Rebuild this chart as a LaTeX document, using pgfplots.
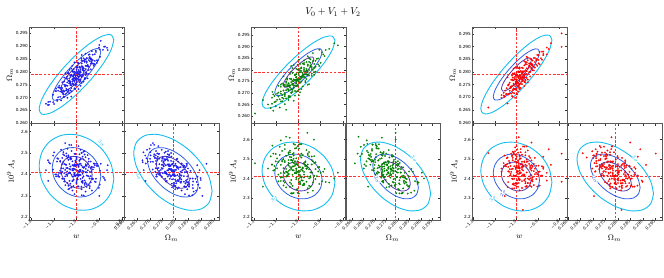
\documentclass[border=0pt]{standalone}
\usepackage{fontspec}
\setmainfont{DejaVu Sans}
\usepackage{pgfplots}
\usepackage{pgfplotstable}
\pgfplotsset{compat=1.18}

\definecolor{cthree}{RGB}{20,190,240}
\definecolor{ctwo}{RGB}{45,95,230}
\definecolor{cone}{RGB}{85,55,170}
\definecolor{cfid}{RGB}{255,50,50}
\definecolor{pblue}{RGB}{30,30,240}
\definecolor{pgreen}{RGB}{0,128,0}
\definecolor{pred}{RGB}{255,0,0}

% ---------- Fisher contours (3, 2, 1 sigma) ----------
\pgfplotstableread{
x y
-0.835 0.2925
-0.8476 0.29446
-0.8833 0.29407
-0.9369 0.29138
-1.0 0.2868
-1.0631 0.28104
-1.1167 0.27497
-1.1524 0.26952
-1.165 0.2655
-1.1524 0.26354
-1.1167 0.26393
-1.0631 0.26662
-1.0 0.2712
-0.9369 0.27696
-0.8833 0.28303
-0.8476 0.28848
-0.835 0.2925
}\ETLc
\pgfplotstableread{
x y
-0.8927 0.28778
-0.9009 0.28905
-0.9241 0.2888
-0.9590 0.28705
-1.0 0.28407
-1.0410 0.28033
-1.0759 0.27638
-1.0991 0.27284
-1.1073 0.27022
-1.0991 0.26895
-1.0759 0.2692
-1.0410 0.27095
-1.0 0.27393
-0.9590 0.27767
-0.9241 0.28162
-0.9009 0.28516
-0.8927 0.28778
}\ETLb
\pgfplotstableread{
x y
-0.9307 0.28467
-0.9360 0.28549
-0.9510 0.28533
-0.9735 0.2842
-1.0 0.28228
-1.0265 0.27986
-1.0490 0.27731
-1.0640 0.27502
-1.0693 0.27333
-1.0640 0.27251
-1.0490 0.27267
-1.0265 0.2738
-1.0 0.27572
-0.9735 0.27814
-0.9510 0.28069
-0.9360 0.28298
-0.9307 0.28467
}\ETLa
\pgfplotstableread{
x y
-0.835 2.380
-0.8476 2.4493
-0.8833 2.5125
-0.9369 2.5602
-1.0 2.585
-1.0631 2.5832
-1.1167 2.555
-1.1524 2.5047
-1.165 2.440
-1.1524 2.3708
-1.1167 2.3075
-1.0631 2.2598
-1.0 2.235
-0.9369 2.2368
-0.8833 2.265
-0.8476 2.3153
-0.835 2.380
}\EBLc
\pgfplotstableread{
x y
-0.8927 2.3905
-0.9009 2.4355
-0.9241 2.4766
-0.9590 2.5076
-1.0 2.5238
-1.0410 2.5226
-1.0759 2.5042
-1.0991 2.4716
-1.1073 2.4295
-1.0991 2.3845
-1.0759 2.3434
-1.0410 2.3124
-1.0 2.2963
-0.9590 2.2975
-0.9241 2.3158
-0.9009 2.3485
-0.8927 2.3905
}\EBLb
\pgfplotstableread{
x y
-0.9307 2.3974
-0.9360 2.4265
-0.9510 2.4531
-0.9735 2.4731
-1.0 2.4835
-1.0265 2.4827
-1.0490 2.4709
-1.0640 2.4498
-1.0693 2.4226
-1.0640 2.3935
-1.0490 2.3669
-1.0265 2.3469
-1.0 2.3365
-0.9735 2.3373
-0.9510 2.3491
-0.9360 2.3702
-0.9307 2.3974
}\EBLa
\pgfplotstableread{
x y
0.2943 2.321
0.29314 2.3867
0.28982 2.456
0.28486 2.5182
0.279 2.564
0.27314 2.5863
0.26818 2.5818
0.26486 2.5512
0.2637 2.499
0.26486 2.4333
0.26818 2.364
0.27314 2.3018
0.279 2.256
0.28486 2.2337
0.28982 2.2382
0.29314 2.2688
0.2943 2.321
}\EBRc
\pgfplotstableread{
x y
0.28895 2.3522
0.28819 2.3949
0.28603 2.4399
0.28281 2.4803
0.279 2.5101
0.27519 2.5246
0.27197 2.5217
0.26981 2.5018
0.26905 2.4679
0.26981 2.4251
0.27197 2.3801
0.27519 2.3397
0.279 2.3099
0.28281 2.2954
0.28603 2.2983
0.28819 2.3182
0.28895 2.3522
}\EBRb
\pgfplotstableread{
x y
0.28543 2.3726
0.28494 2.4002
0.28354 2.4293
0.28146 2.4555
0.279 2.4747
0.27654 2.4841
0.27446 2.4822
0.27306 2.4693
0.27257 2.4474
0.27306 2.4198
0.27446 2.3907
0.27654 2.3645
0.279 2.3453
0.28146 2.3359
0.28354 2.3378
0.28494 2.3507
0.28543 2.3726
}\EBRa

% ---------- samples: w, Omega_m, 10^9 A_s ----------
\pgfplotstableread{
w Om As
-0.987 0.2783 2.463
-1.054 0.2750 2.406
-0.964 0.2841 2.372
-1.005 0.2747 2.463
-0.933 0.2847 2.411
-1.027 0.2757 2.470
-1.000 0.2803 2.359
-0.906 0.2844 2.440
-1.081 0.2701 2.473
-0.978 0.2846 2.331
-1.018 0.2772 2.419
-0.955 0.2794 2.440
-1.041 0.2782 2.393
-0.991 0.2793 2.414
-1.104 0.2711 2.423
-0.969 0.2804 2.470
-1.014 0.2750 2.427
-0.946 0.2846 2.391
-1.068 0.2689 2.515
-0.996 0.2797 2.395
-0.960 0.2871 2.320
-1.032 0.2756 2.407
-0.919 0.2843 2.450
-1.009 0.2801 2.394
-0.982 0.2746 2.515
-1.050 0.2743 2.421
-0.973 0.2821 2.361
-1.023 0.2748 2.473
-0.942 0.2868 2.336
-1.063 0.2737 2.448
-1.000 0.2775 2.444
-0.883 0.2886 2.389
-1.036 0.2799 2.331
-0.987 0.2770 2.494
-1.005 0.2797 2.394
-0.951 0.2822 2.394
-1.086 0.2692 2.460
-0.973 0.2808 2.434
-1.018 0.2806 2.369
-0.991 0.2777 2.399
-0.928 0.2867 2.381
-1.045 0.2716 2.485
-0.982 0.2808 2.397
-1.009 0.2775 2.447
-0.960 0.2775 2.480
-1.027 0.2786 2.357
-0.937 0.2849 2.428
-1.059 0.2728 2.428
-0.996 0.2817 2.384
-1.023 0.2704 2.537
-0.969 0.2814 2.391
-1.090 0.2735 2.400
-0.991 0.2780 2.439
-0.946 0.2807 2.473
-1.041 0.2759 2.414
-0.978 0.2853 2.343
-1.014 0.2768 2.419
-0.897 0.2888 2.352
-1.072 0.2724 2.463
-1.000 0.2811 2.369
-0.964 0.2805 2.435
-1.032 0.2717 2.538
-0.955 0.2841 2.342
-1.005 0.2786 2.422
-0.987 0.2760 2.466
-1.054 0.2778 2.380
-0.924 0.2824 2.451
-1.018 0.2783 2.426
-0.973 0.2790 2.417
-1.122 0.2672 2.457
-0.960 0.2824 2.410
-1.009 0.2837 2.308
-0.982 0.2800 2.450
-1.045 0.2734 2.430
-0.942 0.2858 2.381
-1.023 0.2737 2.474
-0.996 0.2799 2.376
-0.910 0.2845 2.449
-1.063 0.2760 2.380
-0.969 0.2806 2.431
-1.036 0.2731 2.482
-1.000 0.2819 2.364
-0.951 0.2775 2.490
-1.014 0.2781 2.390
-0.978 0.2783 2.500
-1.077 0.2739 2.407
-0.964 0.2847 2.351
-1.027 0.2754 2.437
-0.933 0.2839 2.433
-1.005 0.2734 2.496
-0.987 0.2817 2.398
-1.050 0.2746 2.391
-0.915 0.2883 2.365
-1.018 0.2754 2.461
-0.973 0.2818 2.384
-1.099 0.2675 2.503
-0.991 0.2834 2.344
-0.955 0.2823 2.395
-1.032 0.2774 2.426
-0.982 0.2769 2.471
-1.068 0.2738 2.404
-0.946 0.2867 2.351
-1.009 0.2767 2.400
-0.964 0.2776 2.493
-1.041 0.2772 2.398
-0.996 0.2786 2.447
-0.874 0.2899 2.374
-1.023 0.2813 2.339
-0.978 0.2781 2.442
-1.059 0.2717 2.494
-0.937 0.2851 2.363
-1.005 0.2776 2.438
-0.960 0.2848 2.363
-1.027 0.2728 2.475
-0.991 0.2808 2.435
-1.081 0.2740 2.397
-0.928 0.2833 2.423
-1.014 0.2774 2.441
-0.969 0.2762 2.506
-1.135 0.2676 2.420
-0.893 0.2921 2.450
-0.862 0.2885 2.443
-1.125 0.2683 2.370
-0.899 0.2905 2.300
-1.050 0.2712 2.546
-1.013 0.2787 2.377
-0.946 0.2820 2.434
-1.036 0.2729 2.468
-0.995 0.2823 2.377
-1.067 0.2723 2.429
-0.973 0.2813 2.370
-1.000 0.2767 2.481
-1.094 0.2726 2.400
-0.919 0.2869 2.367
-1.022 0.2724 2.509
-0.982 0.2798 2.421
-1.045 0.2776 2.400
-0.959 0.2788 2.447
-1.009 0.2777 2.426
-0.896 0.2859 2.417
-1.031 0.2766 2.370
-0.986 0.2820 2.413
-1.054 0.2724 2.449
-0.932 0.2881 2.325
-1.004 0.2773 2.445
-1.040 0.2699 2.520
-0.968 0.2814 2.433
-1.081 0.2727 2.390
-0.991 0.2769 2.446
-1.018 0.2824 2.325
-0.950 0.2827 2.419
-1.027 0.2749 2.479
-0.977 0.2822 2.367
-1.058 0.2702 2.504
-0.937 0.2833 2.392
-1.000 0.2795 2.396
-1.117 0.2684 2.451
-0.964 0.2771 2.509
-1.013 0.2800 2.346
-0.995 0.2773 2.446
-1.049 0.2748 2.446
-0.914 0.2878 2.380
-1.027 0.2762 2.406
-0.982 0.2764 2.471
-1.009 0.2793 2.441
-1.072 0.2703 2.459
-0.955 0.2854 2.355
-1.018 0.2762 2.443
-0.991 0.2795 2.393
-1.040 0.2795 2.360
-0.973 0.2784 2.483
-1.063 0.2721 2.412
-0.941 0.2842 2.412
-1.004 0.2753 2.456
-0.977 0.2866 2.303
-1.031 0.2756 2.449
-0.910 0.2835 2.440
-1.009 0.2790 2.401
-1.054 0.2763 2.367
-0.959 0.2811 2.426
-0.986 0.2802 2.421
-1.103 0.2682 2.488
-0.928 0.2846 2.377
-1.000 0.2759 2.471
-1.036 0.2765 2.405
-0.968 0.2853 2.302
-1.045 0.2729 2.498
-0.995 0.2784 2.418
-1.013 0.2810 2.374
-0.946 0.2792 2.460
-1.076 0.2746 2.389
-0.982 0.2787 2.414
-1.027 0.2780 2.423
-0.878 0.2898 2.383
-1.040 0.2746 2.430
-0.991 0.2733 2.532
-1.018 0.2770 2.390
-0.955 0.2836 2.410
-1.058 0.2712 2.459
-0.977 0.2833 2.366
-1.004 0.2771 2.464
-1.090 0.2725 2.391
-0.937 0.2810 2.460
-1.031 0.2764 2.409
-0.964 0.2839 2.358
-1.000 0.2751 2.476
-1.049 0.2795 2.350
-0.986 0.2789 2.450
-1.022 0.2787 2.340
-0.923 0.2831 2.433
-1.036 0.2723 2.489
-0.973 0.2816 2.403
-1.067 0.2731 2.407
-0.995 0.2836 2.344
-1.013 0.2753 2.442
-0.950 0.2824 2.449
-1.085 0.2687 2.475
-0.982 0.2816 2.379
-0.901 0.2895 2.337
-1.009 0.2736 2.496
-1.045 0.2747 2.445
-0.968 0.2796 2.414
-1.018 0.2801 2.369
-0.932 0.2832 2.436
-1.054 0.2703 2.489
-0.991 0.2803 2.440
-1.036 0.2794 2.347
-0.959 0.2798 2.442
-1.004 0.2784 2.393
-1.126 0.2671 2.466
-0.977 0.2757 2.501
-1.022 0.2789 2.398
-0.941 0.2853 2.346
-1.063 0.2719 2.477
-0.995 0.2794 2.402
-1.040 0.2722 2.477
-0.973 0.2842 2.365
-1.009 0.2762 2.405
-0.919 0.2830 2.443
-1.072 0.2737 2.417
-0.986 0.2796 2.399
-1.031 0.2808 2.334
-0.865 0.2894 2.420
}\GA

\pgfplotstableread{
w Om As
-0.946 0.2819 2.412
-1.027 0.2705 2.525
-0.998 0.2788 2.438
-1.056 0.2712 2.435
-0.975 0.2829 2.374
-0.911 0.2823 2.457
-1.091 0.2685 2.486
-1.004 0.2821 2.326
-0.981 0.2728 2.521
-1.045 0.2740 2.480
-1.010 0.2743 2.473
-1.068 0.2734 2.387
-0.958 0.2774 2.521
-1.022 0.2751 2.442
-0.993 0.2703 2.577
-0.894 0.2875 2.386
-1.109 0.2661 2.464
-0.987 0.2810 2.404
-0.969 0.2747 2.484
-1.039 0.2733 2.460
-1.016 0.2776 2.466
-1.074 0.2680 2.495
-0.935 0.2872 2.337
-0.975 0.2779 2.480
-0.998 0.2777 2.382
-1.033 0.2703 2.509
-1.097 0.2697 2.452
-0.964 0.2781 2.451
-1.051 0.2758 2.432
-0.940 0.2774 2.513
-0.993 0.2770 2.438
-1.022 0.2820 2.325
-1.062 0.2687 2.551
-0.923 0.2839 2.397
-1.010 0.2752 2.473
-1.080 0.2727 2.404
-1.045 0.2670 2.534
-0.958 0.2817 2.410
-0.987 0.2763 2.508
-1.138 0.2651 2.451
-0.981 0.2827 2.389
-1.004 0.2731 2.473
-1.027 0.2752 2.442
-0.952 0.2799 2.447
-1.033 0.2761 2.372
-1.085 0.2673 2.521
-0.906 0.2886 2.372
-1.056 0.2677 2.517
-0.969 0.2793 2.470
-0.998 0.2751 2.420
-1.062 0.2730 2.428
-0.987 0.2717 2.576
-1.016 0.2756 2.430
-0.946 0.2845 2.358
-1.010 0.2729 2.504
-0.975 0.2800 2.475
-1.045 0.2716 2.467
-1.068 0.2772 2.364
-0.929 0.2779 2.515
-1.027 0.2740 2.483
-0.998 0.2788 2.399
-0.900 0.2830 2.429
-1.114 0.2694 2.441
-0.981 0.2777 2.456
-1.051 0.2729 2.412
-0.964 0.2760 2.546
-1.010 0.2804 2.343
-0.940 0.2803 2.472
-1.091 0.2702 2.420
-1.022 0.2667 2.578
-0.993 0.2796 2.408
-1.039 0.2724 2.535
-0.917 0.2847 2.412
-1.068 0.2676 2.500
-0.975 0.2823 2.405
-1.010 0.2741 2.451
-1.080 0.2698 2.470
-0.958 0.2858 2.327
-1.016 0.2709 2.554
-0.987 0.2795 2.406
-0.969 0.2767 2.463
-1.004 0.2760 2.488
-1.039 0.2762 2.357
-1.062 0.2701 2.484
-0.877 0.2885 2.382
-0.998 0.2716 2.554
-1.033 0.2758 2.450
-1.016 0.2733 2.475
-0.952 0.2849 2.362
-1.027 0.2737 2.419
-0.964 0.2804 2.450
-1.103 0.2643 2.526
-0.993 0.2825 2.382
-0.981 0.2768 2.451
-1.045 0.2742 2.439
-0.958 0.2736 2.528
-1.016 0.2756 2.489
-1.056 0.2744 2.409
-0.935 0.2800 2.489
-1.010 0.2767 2.404
-1.039 0.2687 2.543
-0.998 0.2800 2.430
-1.120 0.2654 2.472
-0.975 0.2808 2.370
-0.993 0.2744 2.516
-0.946 0.2813 2.431
-1.033 0.2816 2.323
-1.022 0.2731 2.531
-1.051 0.2735 2.413
-0.923 0.2792 2.483
-1.074 0.2741 2.407
-0.987 0.2772 2.446
-1.010 0.2781 2.438
-1.033 0.2718 2.456
-0.888 0.2866 2.435
-1.004 0.2708 2.566
-1.027 0.2786 2.362
-0.958 0.2791 2.455
-0.993 0.2790 2.370
-1.056 0.2628 2.615
-1.197 0.2612 2.478
-0.838 0.2914 2.400
-0.822 0.2905 2.430
-0.960 0.2790 2.635
-0.861 0.2890 2.379
-1.080 0.2664 2.596
-1.161 0.2670 2.358
-1.118 0.2705 2.569
-0.930 0.2790 2.600
-1.040 0.2730 2.610
-1.074 0.2691 2.488
-0.993 0.2805 2.375
-1.022 0.2722 2.462
-0.964 0.2798 2.465
-1.045 0.2681 2.526
-1.109 0.2687 2.443
-0.929 0.2825 2.414
-1.016 0.2689 2.574
-1.039 0.2782 2.379
-0.975 0.2770 2.420
-1.010 0.2767 2.427
-0.952 0.2776 2.513
-1.062 0.2736 2.379
-0.998 0.2759 2.458
-1.027 0.2807 2.323
-1.126 0.2635 2.514
-0.911 0.2849 2.436
-1.033 0.2700 2.496
-1.051 0.2763 2.416
-0.981 0.2777 2.440
-1.004 0.2734 2.434
-0.946 0.2830 2.405
-1.085 0.2638 2.563
-1.045 0.2731 2.420
-1.022 0.2733 2.518
-0.987 0.2807 2.391
-0.923 0.2813 2.448
-1.056 0.2729 2.449
-0.969 0.2752 2.468
-1.080 0.2736 2.387
-1.027 0.2740 2.462
-0.998 0.2690 2.575
-0.958 0.2823 2.349
-1.097 0.2671 2.503
-1.010 0.2758 2.427
-0.940 0.2783 2.496
-0.975 0.2840 2.366
-1.062 0.2693 2.490
-1.033 0.2747 2.392
-0.882 0.2859 2.449
-1.039 0.2683 2.511
-1.016 0.2779 2.427
-0.993 0.2758 2.458
-1.068 0.2711 2.453
-0.987 0.2749 2.528
-0.935 0.2837 2.379
-1.114 0.2624 2.528
-0.964 0.2833 2.383
-1.051 0.2717 2.430
-1.022 0.2759 2.480
-0.958 0.2780 2.472
-1.033 0.2793 2.324
-1.004 0.2754 2.470
-1.074 0.2665 2.542
-1.010 0.2781 2.396
-1.045 0.2710 2.425
-0.975 0.2794 2.433
-0.952 0.2738 2.536
-1.091 0.2731 2.385
-0.993 0.2770 2.417
-1.022 0.2722 2.501
-1.120 0.2680 2.471
-0.906 0.2816 2.459
-1.039 0.2733 2.444
-0.969 0.2781 2.488
-1.056 0.2750 2.354
-1.010 0.2706 2.557
-1.080 0.2707 2.428
-0.929 0.2808 2.480
-0.998 0.2843 2.322
-1.027 0.2714 2.492
-0.981 0.2786 2.365
-1.103 0.2663 2.488
-0.952 0.2834 2.400
-1.045 0.2687 2.495
-1.010 0.2769 2.449
-0.940 0.2812 2.430
-1.062 0.2652 2.573
-1.004 0.2801 2.346
-1.033 0.2715 2.494
}\GB

\pgfplotstableread{
w Om As
-1.003 0.2790 2.412
-0.963 0.2786 2.414
-0.930 0.2827 2.453
-1.031 0.2715 2.478
-0.974 0.2801 2.474
-0.992 0.2815 2.357
-0.947 0.2770 2.488
-1.013 0.2754 2.526
-1.006 0.2771 2.374
-0.897 0.2834 2.466
-0.980 0.2780 2.428
-1.024 0.2715 2.528
-0.919 0.2855 2.366
-0.985 0.2770 2.456
-0.958 0.2807 2.358
-0.996 0.2820 2.390
-1.017 0.2702 2.506
-0.952 0.2814 2.465
-1.038 0.2749 2.381
-0.969 0.2776 2.461
-0.875 0.2866 2.458
-0.989 0.2742 2.465
-0.999 0.2798 2.463
-0.936 0.2833 2.401
-1.059 0.2718 2.463
-0.985 0.2764 2.425
-0.958 0.2758 2.519
-1.010 0.2776 2.399
-0.914 0.2817 2.506
-0.974 0.2817 2.351
-0.999 0.2771 2.431
-0.980 0.2774 2.551
-0.892 0.2830 2.435
-1.020 0.2786 2.399
-0.952 0.2803 2.431
-0.992 0.2737 2.533
-1.013 0.2735 2.416
-0.985 0.2799 2.428
-0.908 0.2851 2.397
-1.006 0.2698 2.540
-0.941 0.2826 2.475
-1.027 0.2742 2.416
-0.969 0.2781 2.465
-0.989 0.2799 2.395
-1.045 0.2714 2.504
-0.936 0.2782 2.465
-0.963 0.2842 2.420
-0.996 0.2745 2.438
-0.925 0.2845 2.404
-1.069 0.2709 2.435
-0.980 0.2755 2.503
-0.930 0.2833 2.357
-1.003 0.2757 2.456
-1.017 0.2778 2.450
-0.969 0.2789 2.412
-0.881 0.2880 2.415
-0.992 0.2753 2.457
-0.952 0.2776 2.565
-0.985 0.2813 2.339
-0.930 0.2814 2.441
-0.999 0.2769 2.467
-1.041 0.2779 2.356
-0.947 0.2759 2.544
-0.974 0.2798 2.415
-1.034 0.2714 2.490
-0.903 0.2867 2.358
-1.020 0.2745 2.515
-0.958 0.2831 2.375
-1.010 0.2716 2.525
-0.999 0.2758 2.375
-0.974 0.2793 2.462
-0.859 0.2869 2.429
-0.985 0.2818 2.392
-1.003 0.2733 2.456
-0.936 0.2833 2.458
-1.024 0.2742 2.434
-0.963 0.2761 2.488
-1.006 0.2781 2.488
-0.925 0.2824 2.393
-0.992 0.2780 2.453
-1.017 0.2767 2.396
-0.914 0.2839 2.422
-1.055 0.2702 2.518
-0.969 0.2765 2.464
-1.013 0.2813 2.374
-0.947 0.2813 2.377
-0.919 0.2820 2.475
-0.996 0.2763 2.429
-0.989 0.2799 2.461
-1.048 0.2713 2.462
-0.941 0.2834 2.411
-0.980 0.2737 2.472
-0.930 0.2830 2.493
-1.006 0.2771 2.413
-0.963 0.2778 2.484
-1.020 0.2770 2.349
-0.897 0.2847 2.434
-0.985 0.2753 2.512
-0.952 0.2838 2.362
-1.027 0.2739 2.464
-0.963 0.2780 2.414
-0.908 0.2846 2.465
-0.999 0.2712 2.513
-1.038 0.2747 2.459
-0.941 0.2821 2.394
-0.989 0.2802 2.401
-0.969 0.2778 2.565
-0.886 0.2854 2.414
-1.017 0.2729 2.494
-1.010 0.2795 2.349
-0.958 0.2769 2.535
-0.992 0.2780 2.423
-0.925 0.2826 2.464
-1.031 0.2726 2.448
-0.952 0.2860 2.357
-0.936 0.2820 2.376
-1.003 0.2752 2.520
-0.985 0.2799 2.396
-1.052 0.2727 2.469
-0.974 0.2763 2.386
-0.790 0.2952 2.528
-0.790 0.2899 2.383
-0.989 0.2775 2.612
-0.970 0.2815 2.238
-0.840 0.2913 2.470
-0.875 0.2880 2.512
-1.054 0.2705 2.309
-0.930 0.2850 2.585
-1.130 0.2660 2.530
-0.850 0.2890 2.550
-1.003 0.2731 2.500
-0.963 0.2802 2.390
-0.930 0.2816 2.469
-1.031 0.2758 2.414
-0.974 0.2769 2.522
-0.992 0.2723 2.493
-0.947 0.2846 2.376
-1.013 0.2749 2.534
-1.006 0.2744 2.414
-0.897 0.2866 2.418
-1.024 0.2769 2.448
-0.919 0.2806 2.438
-0.985 0.2781 2.440
-0.958 0.2791 2.382
-0.996 0.2712 2.550
-1.017 0.2794 2.370
-0.952 0.2792 2.497
-1.038 0.2711 2.437
-0.969 0.2803 2.421
-0.875 0.2871 2.450
-0.989 0.2801 2.377
-0.999 0.2728 2.567
-0.936 0.2801 2.449
-1.059 0.2707 2.479
-0.985 0.2786 2.393
-0.958 0.2839 2.399
-1.010 0.2733 2.463
-0.914 0.2855 2.450
-0.974 0.2752 2.447
-0.999 0.2755 2.455
-0.980 0.2785 2.535
-0.892 0.2879 2.363
-1.020 0.2705 2.519
-0.992 0.2802 2.437
-1.013 0.2767 2.368
-0.985 0.2750 2.500
-0.908 0.2829 2.429
-1.006 0.2817 2.364
-0.941 0.2799 2.515
-1.027 0.2737 2.424
-0.969 0.2797 2.441
-0.989 0.2745 2.475
-1.045 0.2736 2.472
-0.936 0.2852 2.361
-0.963 0.2745 2.564
-0.996 0.2788 2.374
-0.925 0.2807 2.460
-1.069 0.2698 2.451
-0.980 0.2804 2.431
-0.930 0.2811 2.389
-1.003 0.2762 2.448
-1.017 0.2719 2.538
-0.881 0.2848 2.463
-0.992 0.2785 2.409
-0.952 0.2830 2.485
-0.985 0.2737 2.451
-0.930 0.2830 2.417
-0.999 0.2758 2.483
-1.041 0.2676 2.508
-0.947 0.2856 2.400
-0.974 0.2771 2.455
-1.034 0.2752 2.434
-0.903 0.2824 2.422
-0.958 0.2766 2.471
-1.010 0.2792 2.413
-0.999 0.2769 2.359
-0.974 0.2777 2.486
-0.859 0.2896 2.389
-0.985 0.2732 2.520
-1.003 0.2787 2.376
-0.936 0.2801 2.506
-0.963 0.2826 2.392
-1.006 0.2732 2.560
-0.925 0.2829 2.385
-0.992 0.2758 2.485
}\GC

\newcommand{\tickfont}{\fontsize{4.2}{5}\selectfont}
\pgfplotsset{
  panel/.style={scale only axis, width=95pt, height=96.5pt, anchor=south west,
    tick align=inside, major tick length=2.2pt,
    xtick pos=both, ytick pos=both,
    axis line style={black!65, line width=0.7pt},
    tick style={black!80, line width=0.35pt},
    tick label style={font=\tickfont, inner sep=1pt},
    label style={font=\fontsize{8.5}{10}\selectfont},
    xticklabel style={rotate=45, anchor=east, inner sep=0.8pt},
  },
  wticks/.style={xtick={-1.2,-1.1,-1.0,-0.9,-0.8}, xticklabels={−1.2,−1.1,−1.0,−0.9,−0.8}},
  omxticks/.style={xtick={0.260,0.265,0.270,0.275,0.280,0.285,0.290,0.295},
    xticklabels={0.260,0.265,0.270,0.275,0.280,0.285,0.290,0.295}},
  omyticks/.style={ytick={0.260,0.265,0.270,0.275,0.280,0.285,0.290,0.295},
    yticklabels={0.260,0.265,0.270,0.275,0.280,0.285,0.290,0.295}},
  asyticks/.style={ytick={2.2,2.3,2.4,2.5,2.6}, yticklabels={2.2,2.3,2.4,2.5,2.6}},
  tl/.style={panel, wticks, xticklabels={}, omyticks, ylabel={$\Omega_m$},
    ylabel style={at={(axis description cs:-0.2,0.5)}, anchor=center}},
  bl/.style={panel, wticks, asyticks, xlabel={$w$}, ylabel={$10^9\,A_s$},
    xlabel style={at={(axis description cs:0.5,-0.17)}, anchor=center},
    ylabel style={at={(axis description cs:-0.19,0.5)}, anchor=center}},
  br/.style={panel, omxticks, asyticks, yticklabels={}, xlabel={$\Omega_m$},
    xlabel style={at={(axis description cs:0.5,-0.19)}, anchor=center}},
  pts/.style={only marks, mark=*, mark size=0.8pt, mark options={line width=0.15pt}},
  e3/.style={cthree, line width=0.9pt, smooth},
  e2/.style={ctwo, line width=0.8pt, smooth},
  e1/.style={cone, line width=0.8pt, smooth},
  fid/.style={cfid, line width=0.55pt, dash pattern=on 2.6pt off 1.6pt},
}
\newcommand{\ellTL}{%
  \addplot[e1] table {\ETLa};
  \addplot[e2] table {\ETLb};
  \addplot[e3] table {\ETLc};
  \addplot[fid] coordinates {(-1,0.2) (-1,0.35)};
  \addplot[fid] coordinates {(-2,0.279) (0,0.279)};
}
\newcommand{\ellBL}{%
  \addplot[e1] table {\EBLa};
  \addplot[e2] table {\EBLb};
  \addplot[e3] table {\EBLc};
  \addplot[fid] coordinates {(-1,2.0) (-1,3.0)};
  \addplot[fid] coordinates {(-2,2.41) (0,2.41)};
}
\newcommand{\ellBR}{%
  \addplot[e1] table {\EBRa};
  \addplot[e2] table {\EBRb};
  \addplot[e3] table {\EBRc};
  \addplot[fid] coordinates {(0.279,2.0) (0.279,3.0)};
  \addplot[fid] coordinates {(0.2,2.41) (0.4,2.41)};
}
\tikzset{clab/.style={font=\fontsize{5}{6}\selectfont, fill=white, inner sep=0.2pt}}

\begin{document}
\begin{tikzpicture}
\useasboundingbox (0,0) rectangle (664pt,277pt);
\node[font=\fontsize{10}{12}\selectfont] at (333pt,265pt) {$V_0+V_1+V_2$};

% ================= group 1 (blue) =================
\begin{axis}[tl, at={(29pt,153.5pt)}, xmin=-1.21, xmax=-0.79, ymin=0.2599, ymax=0.2975]
\addplot[pts, pblue] table[x=w, y=Om] {\GA};
\ellTL
\end{axis}
\begin{axis}[bl, at={(29pt,57pt)}, xmin=-1.21, xmax=-0.79, ymin=2.1875, ymax=2.6375]
\addplot[pts, pblue] table[x=w, y=As] {\GA};
\ellBL
\node[clab, text=cthree, rotate=-45] at (axis cs:-0.890,2.545) {$3\sigma$};
\end{axis}
\begin{axis}[br, at={(124pt,57pt)}, xmin=0.2599, xmax=0.2970, ymin=2.1875, ymax=2.6375]
\addplot[pts, pblue] table[x=Om, y=As] {\GA};
\ellBR
\node[clab, text=cthree, rotate=-70] at (axis cs:0.2655,2.390) {$3\sigma$};
\end{axis}

% ================= group 2 (green) =================
\begin{axis}[tl, at={(251pt,153.5pt)}, xmin=-1.215, xmax=-0.785, ymin=0.2569, ymax=0.2984]
\addplot[pts, pgreen] table[x=w, y=Om] {\GB};
\ellTL
\end{axis}
\begin{axis}[bl, at={(251pt,57pt)}, xmin=-1.215, xmax=-0.785, ymin=2.186, ymax=2.683]
\addplot[pts, pgreen] table[x=w, y=As] {\GB};
\ellBL
\node[clab, text=cthree, rotate=45] at (axis cs:-1.110,2.296) {$3\sigma$};
\end{axis}
\begin{axis}[br, at={(345pt,57pt)}, xmin=0.2569, xmax=0.2984, ymin=2.186, ymax=2.683]
\addplot[pts, pgreen] table[x=Om, y=As] {\GB};
\ellBR
\node[clab, text=cthree, rotate=-60] at (axis cs:0.2870,2.500) {$3\sigma$};
\node[clab, text=ctwo, rotate=-70] at (axis cs:0.2708,2.395) {$2\sigma$};
\end{axis}

% ================= group 3 (red) =================
\begin{axis}[tl, at={(472pt,153.5pt)}, xmin=-1.206, xmax=-0.765, ymin=0.2597, ymax=0.2977]
\addplot[pts, pred] table[x=w, y=Om] {\GC};
\ellTL
\end{axis}
\begin{axis}[bl, at={(472pt,57pt)}, xmin=-1.206, xmax=-0.765, ymin=2.186, ymax=2.683]
\addplot[pts, pred] table[x=w, y=As] {\GC};
\ellBL
\node[clab, text=cthree, rotate=45] at (axis cs:-1.110,2.296) {$3\sigma$};
\node[clab, text=ctwo, rotate=55] at (axis cs:-1.062,2.325) {$2\sigma$};
\end{axis}
\begin{axis}[br, at={(567pt,57pt)}, xmin=0.2597, xmax=0.2977, ymin=2.186, ymax=2.683]
\addplot[pts, pred] table[x=Om, y=As] {\GC};
\ellBR
\node[clab, text=cthree, rotate=-60] at (axis cs:0.2870,2.500) {$3\sigma$};
\node[clab, text=ctwo, rotate=-70] at (axis cs:0.2708,2.395) {$2\sigma$};
\end{axis}
\end{tikzpicture}
\end{document}
